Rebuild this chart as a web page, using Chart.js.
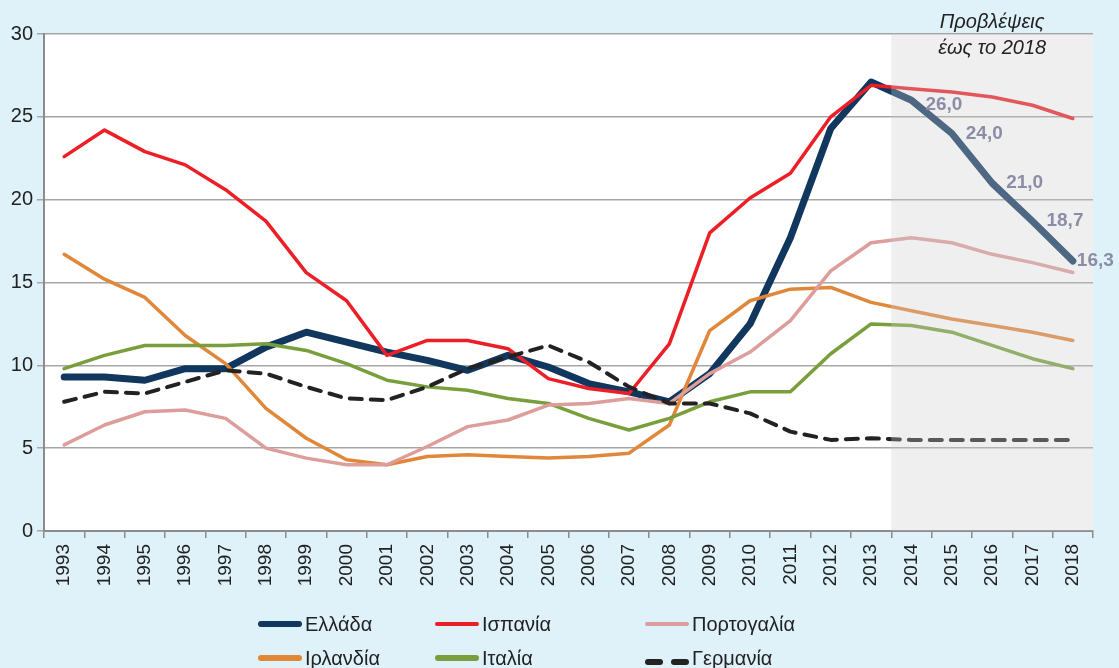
<!DOCTYPE html>
<html>
<head>
<meta charset="utf-8">
<script src="https://cdn.jsdelivr.net/npm/chart.js@4"></script>
<style>
  html, body { margin: 0; padding: 0; background: #dff2fa; }
  #wrap { position: relative; width: 1119px; height: 668px; overflow: hidden; }
  #legend { position: absolute; left: 0; top: 0; width: 1119px; height: 668px; pointer-events: none;
            font-family: "Liberation Sans", Arial, sans-serif; font-size: 20px; color: #222; }
  .item { position: absolute; display: flex; align-items: center; white-space: nowrap; }
  .sw { display: inline-block; width: 44px; border-radius: 4px; margin-right: 3px; }
  .dash { display: inline-block; width: 44px; margin-right: 3px; }
  .dash span { display: inline-block; width: 18px; height: 6px; border-radius: 3px; background: #222; margin-right: 8px; }
</style>
</head>
<body>
<div id="wrap">
  <canvas id="chart" width="1119" height="668"></canvas>
  <div id="legend"></div>
</div>
<script>
const years = ['1993','1994','1995','1996','1997','1998','1999','2000','2001','2002','2003','2004','2005',
               '2006','2007','2008','2009','2010','2011','2012','2013','2014','2015','2016','2017','2018'];

const greece   = [9.3, 9.3, 9.1, 9.8, 9.8, 11.1, 12.0, 11.4, 10.8, 10.3, 9.7, 10.6, 9.9,
                  8.9, 8.4, 7.8, 9.5, 12.5, 17.7, 24.3, 27.1, 26.0, 24.0, 21.0, 18.7, 16.3];
const spain    = [22.6, 24.2, 22.9, 22.1, 20.6, 18.7, 15.6, 13.9, 10.6, 11.5, 11.5, 11.0, 9.2,
                  8.6, 8.3, 11.3, 18.0, 20.1, 21.6, 25.0, 26.9, 26.7, 26.5, 26.2, 25.7, 24.9];
const portugal = [5.2, 6.4, 7.2, 7.3, 6.8, 5.0, 4.4, 4.0, 4.0, 5.1, 6.3, 6.7, 7.6,
                  7.7, 8.0, 7.7, 9.5, 10.8, 12.7, 15.7, 17.4, 17.7, 17.4, 16.7, 16.2, 15.6];
const ireland  = [16.7, 15.2, 14.1, 11.8, 10.1, 7.4, 5.6, 4.3, 4.0, 4.5, 4.6, 4.5, 4.4,
                  4.5, 4.7, 6.4, 12.1, 13.9, 14.6, 14.7, 13.8, 13.3, 12.8, 12.4, 12.0, 11.5];
const italy    = [9.8, 10.6, 11.2, 11.2, 11.2, 11.3, 10.9, 10.1, 9.1, 8.7, 8.5, 8.0, 7.7,
                  6.8, 6.1, 6.8, 7.8, 8.4, 8.4, 10.7, 12.5, 12.4, 12.0, 11.2, 10.4, 9.8];
const germany  = [7.8, 8.4, 8.3, 9.0, 9.7, 9.5, 8.7, 8.0, 7.9, 8.7, 9.8, 10.5, 11.2,
                  10.2, 8.7, 7.7, 7.7, 7.1, 6.0, 5.5, 5.6, 5.5, 5.5, 5.5, 5.5, 5.5];

const yTicks = [0, 5, 10, 15, 20, 25, 30];
const forecastFrom = '2014';
const forecastText = ['Προβλέψεις', 'έως το 2018'];
const labelledYears = ['2014', '2015', '2016', '2017', '2018'];

const FONT = '"Liberation Sans", Arial, sans-serif';

const series = [
  { label: 'Ελλάδα',     data: greece,   color: '#12375f', width: 7,   order: 6, sw: 6 },
  { label: 'Ισπανία',    data: spain,    color: '#ec1f26', width: 3.5, order: 2, sw: 4 },
  { label: 'Πορτογαλία', data: portugal, color: '#dd9d9b', width: 3.5, order: 3, sw: 4 },
  { label: 'Ιρλανδία',   data: ireland,  color: '#e1873a', width: 3.5, order: 5, sw: 6 },
  { label: 'Ιταλία',     data: italy,    color: '#789f3c', width: 3.5, order: 4, sw: 6 },
  { label: 'Γερμανία',   data: germany,  color: '#222222', width: 4,   order: 1, dash: [12, 9] }
];

// fond bleu clair + zone blanche du graphique, puis la zone grise des prévisions
const decor = {
  id: 'decor',
  beforeDraw(chart) {
    const { ctx, chartArea: a } = chart;
    ctx.save();
    ctx.fillStyle = '#dff2fa';
    ctx.fillRect(0, 0, chart.width, chart.height);
    ctx.fillStyle = '#ffffff';
    ctx.fillRect(a.left, a.top, a.right - a.left, a.bottom - a.top);
    ctx.restore();
  },
  afterDatasetsDraw(chart) {
    const { ctx, chartArea: a } = chart;
    const x = chart.scales.x;
    const i = years.indexOf(forecastFrom);
    const x0 = (x.getPixelForValue(i - 1) + x.getPixelForValue(i)) / 2;
    ctx.save();
    ctx.fillStyle = 'rgba(205,205,205,0.32)';
    ctx.fillRect(x0, a.top, a.right - x0, a.bottom - a.top);

    ctx.fillStyle = '#222';
    ctx.font = 'italic 20px ' + FONT;
    ctx.textAlign = 'center';
    ctx.textBaseline = 'middle';
    const cx = (x0 + a.right) / 2;
    ctx.fillText(forecastText[0], cx, 22);
    ctx.fillText(forecastText[1], cx, 48);

    // étiquettes de la Grèce
    const meta = chart.getDatasetMeta(0);
    ctx.fillStyle = '#8b8da7';
    ctx.font = 'bold 19px ' + FONT;
    ctx.textAlign = 'left';
    labelledYears.forEach((yr, k) => {
      const idx = years.indexOf(yr);
      const p = meta.data[idx];
      const last = k === labelledYears.length - 1;
      const txt = greece[idx].toFixed(1).replace('.', ',');
      ctx.fillText(txt, p.x + (last ? 4 : 14), p.y + (k === 0 ? 4 : 0));
    });
    ctx.restore();
  }
};

new Chart(document.getElementById('chart'), {
  type: 'line',
  data: {
    labels: years,
    datasets: series.map(s => ({
      label: s.label,
      data: s.data,
      borderColor: s.color,
      backgroundColor: s.color,
      borderWidth: s.width,
      borderDash: s.dash || [],
      order: s.order,
      pointRadius: 0,
      tension: 0,
      borderJoinStyle: 'round',
      borderCapStyle: s.dash ? 'round' : 'round',
      fill: false
    }))
  },
  options: {
    responsive: false,
    animation: false,
    devicePixelRatio: 1,
    layout: { padding: { top: 34, right: 26, left: 0, bottom: 0 } },
    plugins: { legend: { display: false }, tooltip: { enabled: false } },
    scales: {
      x: {
        offset: true,
        afterFit(scale) { scale.height = 137; },
        grid: { drawOnChartArea: false, offset: true, tickLength: 7, color: '#8c8c8c', lineWidth: 1.5 },
        border: { color: '#8c8c8c', width: 2 },
        ticks: { autoSkip: false, maxRotation: 90, minRotation: 90, padding: 6,
                 color: '#222', font: { family: FONT, size: 19 } }
      },
      y: {
        min: 0, max: 30,
        afterFit(scale) { scale.width = 44; },
        afterBuildTicks(scale) { scale.ticks = yTicks.map(v => ({ value: v })); },
        grid: { color: '#a6a6a6', lineWidth: 1.5, tickLength: 7 },
        border: { color: '#8c8c8c', width: 2 },
        ticks: { padding: 4, color: '#222', font: { family: FONT, size: 20 } }
      }
    }
  },
  plugins: [decor]
});

// légende en trois colonnes
const legend = document.getElementById('legend');
const cols = [258, 435, 645];
const rows = [624, 658];
series.forEach((s, i) => {
  const el = document.createElement('div');
  el.className = 'item';
  el.style.left = cols[i % 3] + 'px';
  el.style.top = (rows[Math.floor(i / 3)] - 12) + 'px';
  el.style.height = '24px';
  let sw;
  if (s.dash) {
    sw = '<span class="dash"><span></span><span></span></span>';
  } else {
    sw = '<span class="sw" style="height:' + s.sw + 'px;background:' + s.color + '"></span>';
  }
  el.innerHTML = sw + '<span>' + s.label + '</span>';
  legend.appendChild(el);
});
</script>
</body>
</html>
